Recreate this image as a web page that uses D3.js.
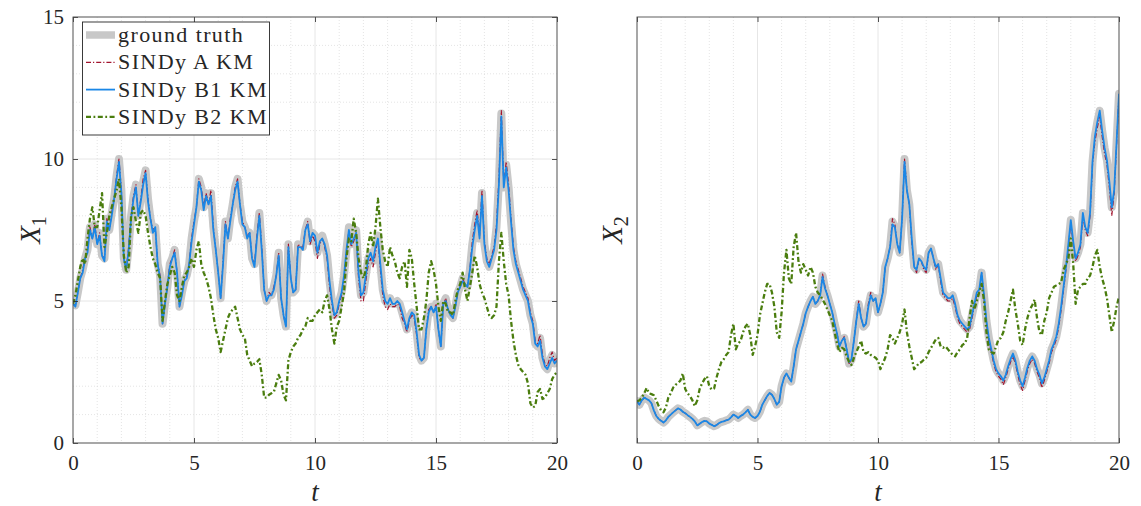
<!DOCTYPE html>
<html>
<head>
<meta charset="utf-8">
<script src="https://cdn.jsdelivr.net/npm/d3@7"></script>
<style>
  body { margin: 0; background: #ffffff; }
  svg { display: block; }
  text { font-family: "Liberation Serif", "Times New Roman", serif; fill: #262626; }
</style>
</head>
<body>
<svg id="chart" width="1141" height="506"></svg>
<script>
// Time grid: samples every 0.1 s from 0 to 20
const tStep = 0.1;
const tValues = d3.range(201).map(i => +(i * tStep).toFixed(1));

const xTicks = [0, 5, 10, 15, 20];
const yTicksX1 = [0, 5, 10, 15];
const seriesNames = ["ground truth", "SINDy A KM", "SINDy B1 KM", "SINDy B2 KM"];

// ---- X1 trajectories ----
const x1Truth = [
  4.9,4.85,5.3,5.8,6.1,6.5,6.8,7.6,7.2,7.7,
  7.0,7.4,6.6,6.5,7.9,7.5,8.1,8.6,9.4,10.0,
  8.9,6.5,6.1,6.9,8.0,8.7,9.1,8.0,8.6,9.2,
  9.6,8.6,7.9,7.5,7.6,6.3,5.9,4.2,4.9,5.5,
  6.3,6.5,6.8,6.0,4.8,5.3,5.7,5.9,6.3,7.2,
  7.8,8.3,9.3,9.0,8.3,8.8,8.4,8.8,7.6,6.8,
  6.0,5.1,6.4,7.8,7.2,7.9,8.4,9.0,9.3,8.4,
  7.8,7.6,7.3,7.4,6.5,6.3,7.3,8.1,6.9,5.4,
  5.0,5.3,5.2,5.5,5.9,6.7,5.1,4.5,4.1,7.0,
  5.8,5.3,5.4,7.0,6.9,6.9,7.5,7.8,7.1,7.4,
  7.3,6.7,7.1,7.3,7.0,6.6,5.7,5.0,4.5,4.6,
  5.0,5.3,5.9,6.8,7.6,7.0,7.2,7.5,6.0,5.2,
  5.3,5.9,6.5,6.7,6.4,6.9,7.3,6.3,5.4,5.0,
  4.9,5.1,4.9,4.9,5.0,4.9,4.6,4.3,4.0,4.4,
  4.6,4.5,3.9,3.1,2.9,3.0,4.0,4.7,4.8,4.6,
  4.9,4.0,3.4,4.9,5.1,4.7,4.5,4.4,4.8,5.3,
  5.5,5.8,5.6,5.5,6.1,7.0,7.6,8.1,7.2,8.8,
  7.0,6.4,6.2,6.5,6.8,7.6,9.2,11.6,9.0,9.8,
  9.0,7.8,6.8,6.3,6.0,5.7,5.4,5.2,5.0,4.5,
  4.2,3.5,3.4,3.7,3.0,2.7,2.6,2.9,3.1,2.8,
  2.9
];
const x1A = [
  4.9,4.85,5.3,5.8,6.1,6.5,6.8,7.6,7.2,7.7,
  7.0,7.4,6.6,6.5,7.9,7.5,8.1,8.6,9.4,10.0,
  8.9,6.5,6.1,6.9,8.0,8.7,9.1,8.0,8.6,9.3,
  9.6,8.6,7.9,7.5,7.6,6.3,5.9,4.2,4.9,5.5,
  6.3,6.5,6.8,6.0,4.8,5.3,5.7,5.9,6.3,7.2,
  7.8,8.3,9.3,9.0,8.3,8.8,8.4,8.9,7.6,6.8,
  6.0,5.1,6.4,7.8,7.2,7.9,8.4,9.0,9.3,8.4,
  7.8,7.6,7.3,7.4,6.5,6.3,7.3,8.1,6.9,5.4,
  5.0,5.3,5.2,5.5,5.9,6.7,5.1,4.5,4.1,7.0,
  5.8,5.3,5.4,7.0,6.9,6.9,7.5,7.8,7.0,7.3,
  7.1,6.5,7.0,7.2,6.9,6.5,5.5,4.9,4.4,4.5,
  4.9,5.2,5.8,6.7,7.5,6.9,7.1,7.4,5.8,5.0,
  5.0,5.7,6.3,6.5,6.2,6.7,7.2,6.1,5.2,4.8,
  4.7,4.9,4.8,4.8,4.9,4.8,4.4,4.2,3.9,4.3,
  4.5,4.4,3.8,3.0,2.9,3.0,4.0,4.7,4.8,4.6,
  4.9,4.0,3.4,4.9,5.1,4.7,4.5,4.4,4.8,5.3,
  5.5,5.8,5.6,5.5,6.1,7.1,7.7,8.2,7.3,8.9,
  7.1,6.5,6.3,6.6,6.9,7.7,9.3,11.7,9.1,9.9,
  9.1,7.9,6.9,6.4,6.1,5.8,5.5,5.3,5.1,4.6,
  4.3,3.6,3.5,3.8,3.1,2.8,2.7,3.0,3.2,2.9,
  3.0
];
const x1B1 = [
  4.9,4.8,5.3,5.8,6.0,6.5,6.7,7.5,7.2,7.6,
  7.0,7.3,6.6,6.4,7.8,7.5,8.0,8.6,9.3,9.9,
  8.8,6.5,6.1,6.8,7.9,8.6,9.0,8.0,8.5,9.1,
  9.5,8.5,7.9,7.4,7.6,6.3,5.8,4.2,4.9,5.5,
  6.2,6.5,6.7,6.0,4.8,5.2,5.7,5.8,6.3,7.1,
  7.7,8.3,9.2,8.9,8.2,8.7,8.4,8.7,7.5,6.8,
  6.0,5.1,6.3,7.7,7.2,7.8,8.4,8.9,9.2,8.4,
  7.7,7.6,7.2,7.4,6.5,6.2,7.2,8.0,6.8,5.4,
  5.0,5.2,5.2,5.4,5.9,6.6,5.1,4.5,4.1,6.9,
  5.8,5.3,5.4,6.9,6.9,6.8,7.5,7.7,7.1,7.4,
  7.3,6.7,7.1,7.2,7.0,6.6,5.7,5.0,4.5,4.6,
  5.0,5.3,5.9,6.8,7.5,7.0,7.2,7.4,6.0,5.2,
  5.3,5.9,6.5,6.7,6.4,6.9,7.2,6.3,5.4,5.0,
  4.9,5.1,4.9,4.9,5.0,4.9,4.6,4.3,4.0,4.4,
  4.6,4.5,3.9,3.1,2.9,3.0,4.0,4.6,4.8,4.6,
  4.8,4.0,3.4,4.9,5.0,4.7,4.5,4.4,4.8,5.3,
  5.5,5.7,5.6,5.5,6.1,6.9,7.5,8.0,7.2,8.7,
  7.0,6.4,6.2,6.5,6.8,7.5,9.1,11.5,9.0,9.7,
  8.9,7.8,6.8,6.3,6.0,5.7,5.4,5.2,5.0,4.5,
  4.2,3.5,3.4,3.6,3.0,2.7,2.6,2.8,3.0,2.8,
  2.9
];
const x1B2 = [
  4.9,5.2,5.7,6.2,6.5,6.3,7.2,7.9,8.3,7.6,
  7.6,8.2,8.8,6.9,7.4,8.0,8.3,8.6,8.9,9.3,
  8.3,6.6,6.0,6.2,8.0,8.3,7.8,7.4,8.1,8.2,
  8.0,7.4,6.9,6.5,6.3,6.0,5.8,4.3,5.0,5.6,
  5.9,6.2,6.0,5.2,5.0,5.5,5.9,6.0,6.2,6.5,
  6.2,6.8,7.1,6.3,6.0,5.8,5.5,5.1,4.5,4.0,
  3.7,3.2,3.6,4.0,4.4,4.6,4.7,4.8,4.4,4.0,
  3.8,3.7,3.1,2.9,2.7,2.8,2.85,2.95,2.4,1.6,
  1.6,1.7,1.75,1.8,2.1,2.4,2.2,1.7,1.5,2.9,
  3.2,3.4,3.5,3.7,3.8,4.0,4.1,4.4,4.3,4.3,
  4.5,4.6,4.7,4.6,5.0,5.2,4.7,4.0,3.5,4.1,
  4.3,4.8,5.3,6.5,7.2,7.1,7.9,7.4,6.5,6.0,
  5.8,6.1,7.0,7.4,6.9,7.6,8.6,7.6,6.8,6.4,
  6.2,6.9,6.6,6.4,6.0,5.8,6.2,6.4,5.5,6.8,
  6.5,5.6,4.8,4.0,4.0,4.4,5.0,6.0,6.4,6.1,
  5.6,4.8,4.3,5.0,4.9,4.6,4.6,4.5,5.0,5.4,
  5.6,6.0,5.4,5.0,5.5,6.0,6.6,6.2,5.6,5.3,
  5.1,4.8,4.5,4.4,4.5,4.8,6.4,7.4,6.4,5.6,
  5.2,4.3,3.6,3.1,2.75,2.6,2.5,2.4,2.1,1.4,
  1.25,1.3,1.8,1.9,1.55,1.6,1.75,1.9,2.25,2.4,
  2.5
];

// ---- X2 trajectories ----
const x2Truth = [
  1.47,1.35,1.5,1.6,1.55,1.5,1.4,1.15,0.95,0.85,
  0.78,0.72,0.8,0.92,1.0,1.08,1.15,1.22,1.18,1.1,
  1.05,0.98,0.92,0.85,0.76,0.62,0.68,0.74,0.78,0.76,
  0.68,0.64,0.59,0.63,0.7,0.74,0.76,0.8,0.82,0.9,
  1.0,0.95,0.88,0.95,1.0,1.08,1.17,1.0,0.92,0.88,
  0.95,1.1,1.35,1.5,1.65,1.76,1.7,1.55,1.35,1.45,
  2.0,2.3,2.45,2.3,2.16,2.7,3.3,3.6,3.9,4.2,
  4.57,4.8,5.0,5.15,4.9,5.0,5.2,5.9,5.45,5.2,
  4.9,4.6,4.2,3.85,3.4,3.6,3.7,3.3,2.8,2.93,
  3.6,4.3,4.9,4.4,4.1,4.2,4.8,5.2,5.0,5.1,
  4.6,4.9,5.3,6.2,6.5,6.9,7.8,7.6,7.0,6.7,
  7.9,10.0,8.9,8.4,7.2,6.2,6.1,6.5,6.4,6.2,
  6.1,6.7,6.85,6.5,6.2,6.3,5.8,5.3,5.2,5.1,
  5.1,5.2,4.9,4.5,4.3,4.2,4.1,4.0,4.1,4.5,
  4.9,5.3,5.4,6.0,5.2,4.3,3.7,3.3,2.9,2.6,
  2.45,2.35,2.2,2.4,2.7,2.95,3.15,2.9,2.5,2.2,
  2.0,2.3,2.65,2.9,3.05,2.9,2.6,2.4,2.1,2.3,
  2.6,2.9,3.3,3.5,3.75,4.2,4.8,5.5,6.2,7.0,
  7.85,7.1,6.5,6.7,7.0,8.1,7.6,7.4,8.1,9.9,
  10.8,11.3,11.7,11.0,10.4,9.95,9.2,8.3,8.9,10.6,
  12.3
];
const x2A = [
  1.47,1.35,1.5,1.6,1.55,1.5,1.4,1.15,0.95,0.85,
  0.78,0.72,0.8,0.92,1.0,1.08,1.15,1.22,1.18,1.1,
  1.05,0.98,0.92,0.85,0.76,0.62,0.68,0.74,0.78,0.76,
  0.68,0.64,0.59,0.63,0.7,0.74,0.76,0.8,0.82,0.9,
  1.0,0.95,0.88,0.95,1.0,1.08,1.17,1.0,0.92,0.88,
  0.95,1.1,1.35,1.5,1.65,1.76,1.7,1.55,1.35,1.45,
  2.0,2.3,2.45,2.3,2.16,2.7,3.3,3.6,3.9,4.2,
  4.57,4.8,5.0,5.15,4.9,5.0,5.2,5.95,5.5,5.2,
  4.9,4.6,4.2,3.85,3.4,3.6,3.75,3.3,2.8,2.93,
  3.6,4.3,5.0,4.4,4.1,4.2,4.9,5.3,5.0,5.1,
  4.6,4.9,5.3,6.2,6.5,6.9,7.9,7.7,7.0,6.7,
  7.9,10.0,8.9,8.4,7.1,6.2,6.0,6.5,6.4,6.1,
  6.0,6.7,6.85,6.5,6.1,6.3,5.7,5.2,5.1,5.0,
  5.0,5.1,4.8,4.4,4.2,4.1,4.0,3.9,4.0,4.4,
  4.8,5.2,5.3,6.0,5.1,4.2,3.6,3.2,2.8,2.5,
  2.35,2.25,2.05,2.3,2.6,2.85,3.05,2.8,2.4,2.05,
  1.85,2.2,2.55,2.8,2.95,2.8,2.5,2.3,1.95,2.2,
  2.5,2.8,3.2,3.4,3.65,4.1,4.7,5.4,6.1,6.9,
  7.75,7.0,6.4,6.6,6.9,8.0,7.5,7.3,8.0,9.8,
  10.6,11.1,11.5,10.8,10.2,9.8,9.0,8.0,8.8,10.5,
  12.3
];
const x2B1 = [
  1.47,1.35,1.5,1.6,1.55,1.5,1.4,1.15,0.95,0.85,
  0.78,0.72,0.8,0.92,1.0,1.08,1.15,1.22,1.18,1.1,
  1.05,0.98,0.92,0.85,0.76,0.62,0.68,0.74,0.78,0.76,
  0.68,0.64,0.59,0.63,0.7,0.74,0.76,0.8,0.82,0.9,
  1.0,0.95,0.88,0.95,1.0,1.08,1.17,1.0,0.92,0.88,
  0.95,1.1,1.35,1.5,1.65,1.76,1.7,1.55,1.35,1.45,
  2.0,2.3,2.45,2.3,2.16,2.7,3.3,3.6,3.9,4.2,
  4.57,4.8,5.0,5.15,4.9,5.0,5.2,5.85,5.45,5.2,
  4.9,4.6,4.2,3.85,3.4,3.6,3.7,3.3,2.85,2.95,
  3.6,4.3,4.9,4.4,4.1,4.2,4.8,5.2,5.0,5.1,
  4.6,4.9,5.3,6.2,6.5,6.9,7.7,7.6,7.0,6.7,
  7.9,9.9,8.9,8.4,7.2,6.2,6.1,6.5,6.4,6.2,
  6.1,6.7,6.85,6.5,6.2,6.3,5.8,5.3,5.2,5.1,
  5.1,5.2,4.9,4.5,4.3,4.2,4.1,4.0,4.1,4.5,
  4.9,5.3,5.4,6.0,5.2,4.3,3.7,3.3,2.9,2.6,
  2.45,2.35,2.2,2.4,2.7,2.95,3.15,2.9,2.5,2.2,
  2.0,2.3,2.65,2.9,3.05,2.9,2.6,2.4,2.1,2.3,
  2.6,2.9,3.3,3.5,3.75,4.2,4.8,5.5,6.2,7.0,
  7.85,7.1,6.5,6.7,7.0,8.1,7.6,7.4,8.1,9.9,
  10.8,11.3,11.7,11.0,10.4,9.95,9.2,8.3,8.9,10.6,
  12.3
];
const x2B2 = [
  1.47,1.5,1.6,1.75,1.94,1.75,1.72,1.68,1.5,1.3,
  1.15,1.08,1.25,1.6,1.75,1.95,2.05,2.1,2.2,2.45,
  1.9,1.75,1.65,1.5,1.3,1.5,1.9,2.1,2.25,2.35,
  2.0,1.88,1.92,2.3,2.6,2.85,2.95,3.1,3.2,3.8,
  4.2,3.3,3.5,3.6,3.9,4.1,4.2,3.8,3.1,3.4,
  3.8,4.5,4.9,5.3,5.6,5.6,5.3,4.8,3.9,3.7,
  4.6,6.0,6.8,5.8,5.6,6.9,7.4,6.4,6.0,6.3,
  6.1,5.9,6.2,6.0,5.5,5.3,5.2,5.05,4.9,4.7,
  4.5,4.3,3.9,3.5,3.2,3.35,3.3,3.05,2.85,2.75,
  3.0,3.2,3.4,3.6,3.2,3.15,3.2,3.1,3.05,3.0,
  2.9,2.6,2.8,3.0,3.3,3.8,3.7,3.5,3.7,3.9,
  4.2,4.7,3.9,3.4,3.0,2.6,2.7,2.82,2.85,2.93,
  3.0,3.2,3.35,3.5,3.65,3.7,3.4,3.35,3.4,3.3,
  3.2,3.1,3.05,3.2,3.3,3.45,3.5,3.7,4.4,5.0,
  4.7,5.0,5.3,5.6,5.0,3.9,3.3,3.2,3.15,3.4,
  3.65,3.7,3.9,4.3,4.6,5.0,5.4,4.7,4.2,3.6,
  3.45,4.0,4.4,4.7,4.85,5.05,4.4,3.9,3.8,4.3,
  4.6,5.1,5.3,5.5,5.55,5.6,5.65,6.1,6.3,6.5,
  7.2,6.3,4.9,5.4,5.5,5.6,5.6,5.8,5.9,6.2,
  6.6,6.8,6.2,5.8,5.5,5.1,4.5,3.9,4.3,4.8,
  5.15
];

// ---- styling ----
const styles = [
  { color: "#c8c8c8", width: 8, dash: null },
  { color: "#a2142f", width: 1.2, dash: "5,2,1.2,2" },
  { color: "#1a87e6", width: 1.8, dash: null },
  { color: "#4a7d0e", width: 2.3, dash: "5,2.5,1.8,2.5" }
];

const svg = d3.select("#chart");
const plotTop = 17, plotBottom = 443;
const panels = [
  { left: 73, right: 557, series: [x1Truth, x1A, x1B1, x1B2], label: "X", sub: "1",
    yDomain: [0, 15], yTicks: yTicksX1, hGrid: true, labelX: 40 },
  { left: 637, right: 1119, series: [x2Truth, x2A, x2B1, x2B2], label: "X", sub: "2",
    yDomain: [0, 15], yTicks: [], hGrid: false, labelX: 622 }
];

const axisColor = "#262626";

panels.forEach((p, pi) => {
  const x = d3.scaleLinear().domain([0, 20]).range([p.left, p.right]);
  const y = d3.scaleLinear().domain(p.yDomain).range([plotBottom, plotTop]);
  const g = svg.append("g");

  // background
  g.append("rect").attr("x", p.left).attr("y", plotTop)
    .attr("width", p.right - p.left).attr("height", plotBottom - plotTop).attr("fill", "#fff");

  // minor grid
  const minor = d3.range(0, 21, 1).filter(v => v % 5 !== 0);
  g.selectAll(".vminor").data(minor).join("line")
    .attr("x1", d => x(d)).attr("x2", d => x(d)).attr("y1", plotTop).attr("y2", plotBottom)
    .attr("stroke", "#d2d2d2").attr("stroke-width", 0.6).attr("stroke-dasharray", "1,2");
  if (p.hGrid) {
    const hminor = d3.range(0, 16, 1).filter(v => v % 5 !== 0);
    g.selectAll(".hminor").data(hminor).join("line")
      .attr("x1", p.left).attr("x2", p.right).attr("y1", d => y(d)).attr("y2", d => y(d))
      .attr("stroke", "#d2d2d2").attr("stroke-width", 0.6).attr("stroke-dasharray", "1,2");
  }
  // major grid
  g.selectAll(".vmajor").data(xTicks).join("line")
    .attr("x1", d => x(d)).attr("x2", d => x(d)).attr("y1", plotTop).attr("y2", plotBottom)
    .attr("stroke", "#e0e0e0").attr("stroke-width", 0.8);
  if (p.hGrid) {
    g.selectAll(".hmajor").data(p.yTicks).join("line")
      .attr("x1", p.left).attr("x2", p.right).attr("y1", d => y(d)).attr("y2", d => y(d))
      .attr("stroke", "#e0e0e0").attr("stroke-width", 0.8);
  }

  // data lines
  const clipId = "clip" + pi;
  svg.append("clipPath").attr("id", clipId).append("rect")
    .attr("x", p.left).attr("y", plotTop).attr("width", p.right - p.left).attr("height", plotBottom - plotTop);
  const lines = g.append("g").attr("clip-path", `url(#${clipId})`);
  const lineGen = d3.line().x((d, i) => x(tValues[i])).y(d => y(d));
  p.series.forEach((s, si) => {
    const st = styles[si];
    lines.append("path").datum(s)
      .attr("d", lineGen)
      .attr("fill", "none")
      .attr("stroke", st.color)
      .attr("stroke-width", st.width)
      .attr("stroke-linejoin", "round")
      .attr("stroke-linecap", si === 0 ? "round" : "butt")
      .attr("stroke-dasharray", st.dash);
  });

  // axes
  const xb = d3.axisBottom(x).tickValues(xTicks).tickSizeInner(-5).tickSizeOuter(0).tickPadding(12);
  const xt = d3.axisTop(x).tickValues(xTicks).tickSizeInner(-5).tickSizeOuter(0).tickFormat("");
  g.append("g").attr("transform", `translate(0,${plotBottom})`).call(xb);
  g.append("g").attr("transform", `translate(0,${plotTop})`).call(xt);
  if (p.yTicks.length) {
    const yl = d3.axisLeft(y).tickValues(p.yTicks).tickSizeInner(-5).tickSizeOuter(0).tickPadding(9);
    const yr = d3.axisRight(y).tickValues(p.yTicks).tickSizeInner(-5).tickSizeOuter(0).tickFormat("");
    g.append("g").attr("transform", `translate(${p.left},0)`).call(yl);
    g.append("g").attr("transform", `translate(${p.right},0)`).call(yr);
  }
  g.selectAll(".domain").remove();
  g.selectAll(".tick line").attr("stroke", axisColor).attr("stroke-width", 0.8);
  g.selectAll(".tick text").attr("font-family", "Liberation Serif, serif")
    .attr("font-size", 21).attr("fill", axisColor);

  // box
  g.append("rect").attr("x", p.left).attr("y", plotTop)
    .attr("width", p.right - p.left).attr("height", plotBottom - plotTop)
    .attr("fill", "none").attr("stroke", "#4d4d4d").attr("stroke-width", 0.9);

  // axis labels
  g.append("text").attr("x", (p.left + p.right) / 2).attr("y", 501)
    .attr("text-anchor", "middle").attr("font-size", 27).attr("font-style", "italic")
    .text("t");
  const yLab = g.append("text")
    .attr("transform", `translate(${p.labelX},${(plotTop + plotBottom) / 2}) rotate(-90)`)
    .attr("text-anchor", "middle").attr("font-size", 29);
  yLab.append("tspan").attr("font-style", "italic").text(p.label);
  yLab.append("tspan").attr("font-size", 20).attr("dy", 6).text(p.sub);

  // legend on the first panel
  if (pi === 0) {
    const lg = g.append("g");
    lg.append("rect").attr("x", 82.5).attr("y", 22).attr("width", 187).attr("height", 113)
      .attr("fill", "#fff").attr("stroke", axisColor).attr("stroke-width", 0.9);
    seriesNames.forEach((name, i) => {
      const cy = 35 + i * 27.3;
      const st = styles[i];
      lg.append("line").attr("x1", 86).attr("x2", 115).attr("y1", cy).attr("y2", cy)
        .attr("stroke", st.color).attr("stroke-width", i === 0 ? 7.5 : st.width)
        .attr("stroke-dasharray", st.dash);
      lg.append("text").attr("x", 118).attr("y", cy + 7)
        .attr("font-size", 22).attr("letter-spacing", 1.4).text(name);
    });
  }
});
</script>
</body>
</html>
